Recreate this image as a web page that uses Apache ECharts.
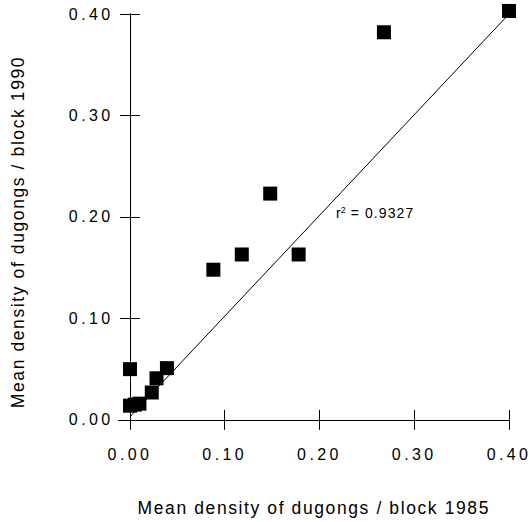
<!DOCTYPE html>
<html><head><meta charset="utf-8">
<script src="https://cdn.jsdelivr.net/npm/echarts@6/dist/echarts.min.js"></script>
<style>
html,body{margin:0;padding:0;background:#fff}#c{width:532px;height:522px}
#c text[style*="16px"]{letter-spacing:3.4px}
#c text[style*="17.5px"]{letter-spacing:1.6px}
#c text[style*="14px"]{letter-spacing:1.1px}
</style>
</head><body><div id="c"></div>
<script>
const density1985 = [0.40, 0.268, 0.148, 0.118, 0.178, 0.088, 0.0, 0.039, 0.028, 0.023, 0.0, 0.005, 0.010];
const density1990 = [0.403, 0.382, 0.223, 0.163, 0.163, 0.148, 0.050, 0.051, 0.041, 0.027, 0.014, 0.015, 0.016];
const fitLine = [[0, 0.003], [0.40, 0.400]];
const tickValues = [0, 0.1, 0.2, 0.3, 0.4];
const r2Text = '0.9327';

const font = 'Liberation Sans, Arial, Helvetica, sans-serif';
const chart = echarts.init(document.getElementById('c'), null, {renderer: 'svg'});
const fmt = v => v.toFixed(2);
const baseAxis = {
  type: 'value', max: 0.40,
  splitLine: {show: false},
  axisLine: {onZero: true, lineStyle: {color: '#000', width: 1}},
};
chart.setOption({
  animation: false,
  grid: {left: 118.6, right: 23, top: 14, bottom: 94, containLabel: false, outerBoundsMode: 'none'},
  xAxis: [
    Object.assign({}, baseAxis, {
      min: -0.012, position: 'bottom',
      axisTick: {show: true, inside: false, length: 10, customValues: tickValues, lineStyle: {color: '#000'}},
      axisLabel: {customValues: tickValues, formatter: fmt, margin: 18, color: '#000', fontSize: 16, fontFamily: font},
      name: 'Mean density of dugongs / block 1985', nameLocation: 'middle', nameGap: 71, nameMoveOverlap: false,
      nameTextStyle: {color: '#000', fontSize: 17.5, fontFamily: font, verticalAlign: 'top'}
    }),
    Object.assign({}, baseAxis, {
      min: -0.012, position: 'top',
      axisTick: {show: true, inside: false, length: 10, customValues: tickValues, lineStyle: {color: '#000'}},
      axisLabel: {show: false}
    })
  ],
  yAxis: [
    Object.assign({}, baseAxis, {
      min: -0.008, position: 'left',
      axisTick: {show: true, inside: false, length: 10, customValues: tickValues, lineStyle: {color: '#000'}},
      axisLabel: {customValues: tickValues, formatter: fmt, margin: 5, color: '#000', fontSize: 16, fontFamily: font},
      name: 'Mean density of dugongs / block 1990', nameLocation: 'middle', nameGap: 92, nameMoveOverlap: false,
      nameTextStyle: {color: '#000', fontSize: 17.5, fontFamily: font, verticalAlign: 'bottom', padding: [0, 22, 0, 0]}
    }),
    Object.assign({}, baseAxis, {
      min: -0.008, position: 'right',
      axisTick: {show: true, inside: false, length: 10, customValues: tickValues, lineStyle: {color: '#000'}},
      axisLabel: {show: false}
    })
  ],
  series: [
    {
      type: 'line', xAxisIndex: 0, yAxisIndex: 0,
      data: fitLine, symbol: 'none', clip: false,
      lineStyle: {color: '#000', width: 1}, z: 1
    },
    {
      type: 'scatter', xAxisIndex: 0, yAxisIndex: 0,
      data: density1985.map((x, i) => [x, density1990[i]]),
      symbol: 'rect', symbolSize: 14, clip: false,
      itemStyle: {color: '#000', opacity: 1}, z: 3
    }
  ],
  graphic: [{
    type: 'text', left: 336, top: 205,
    style: {
      text: 'r{s|2} = ' + r2Text,
      font: '14px ' + font, fill: '#000',
      rich: {s: {fontSize: 9, verticalAlign: 'top', padding: [0, 0, 6, 0], fill: '#000'}}
    }
  }]
});
</script></body></html>
